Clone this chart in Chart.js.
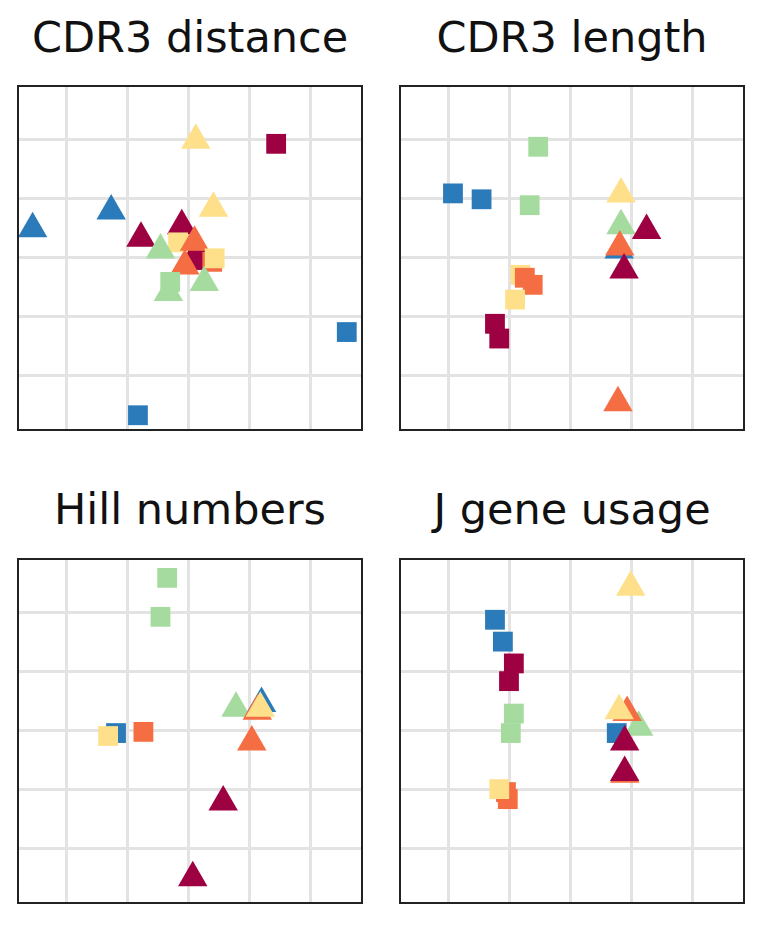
<!DOCTYPE html>
<html>
<head>
<meta charset="utf-8">
<script src="https://cdn.jsdelivr.net/npm/chart.js@4/dist/chart.umd.min.js"></script>
<style>
  body { margin: 0; background: #fff; width: 766px; height: 934px; position: relative; font-family: "DejaVu Sans", sans-serif; }
  .title { position: absolute; width: 380px; text-align: center; font-size: 43px; color: #111; white-space: nowrap; }
  canvas { position: absolute; }
</style>
</head>
<body>
<div class="title" style="left:0px;top:12px">CDR3 distance</div>
<div class="title" style="left:382px;top:12px">CDR3 length</div>
<div class="title" style="left:0px;top:484px">Hill numbers</div>
<div class="title" style="left:382px;top:484px">J gene usage</div>
<canvas id="c0" style="left:1px;top:69px" width="378" height="378"></canvas>
<canvas id="c1" style="left:383px;top:69px" width="378" height="378"></canvas>
<canvas id="c2" style="left:1px;top:542px" width="378" height="378"></canvas>
<canvas id="c3" style="left:383px;top:542px" width="378" height="378"></canvas>
<script>
const panelTitles = ['CDR3 distance', 'CDR3 length', 'Hill numbers', 'J gene usage'];
const groupColors = { blue: '#2b7bba', darkred: '#9e0142', orange: '#f46d43', yellow: '#fee08b', green: '#a6dba0' };
const gridTicks = [0.8, 1.8, 2.8, 3.8, 4.8];
const gridTicksY = [0.9, 1.9, 2.9, 3.9, 4.9];

// each point: [x, y, group, shape]
const cdr3Distance = [
  [0.24,2.42,'blue','t'],[1.53,2.12,'blue','t'],[5.4,4.17,'blue','s'],[1.97,5.58,'blue','s'],
  [4.24,0.98,'darkred','s'],[2.02,2.58,'darkred','t'],[2.69,2.37,'darkred','t'],[2.94,2.95,'darkred','s'],
  [2.92,0.92,'yellow','t'],[3.21,2.07,'yellow','t'],[2.63,2.65,'yellow','s'],
  [2.9,2.65,'orange','t'],[3.19,2.98,'orange','s'],[2.74,3.05,'orange','t'],[3.23,2.92,'yellow','s'],
  [2.34,2.78,'green','t'],[2.5,3.32,'green','s'],[2.47,3.5,'green','t'],[3.06,3.33,'green','t']
];
const cdr3Length = [
  [0.87,1.82,'blue','s'],[1.34,1.92,'blue','s'],[2.27,1.03,'green','s'],[2.13,2.02,'green','s'],
  [3.63,1.83,'yellow','t'],[3.63,2.37,'green','t'],[3.6,2.78,'blue','t'],[3.61,2.73,'orange','t'],
  [4.05,2.45,'darkred','t'],[3.68,3.12,'darkred','t'],
  [1.98,3.2,'yellow','s'],[2.18,3.37,'orange','s'],[2.05,3.25,'orange','s'],[1.89,3.62,'yellow','s'],
  [1.56,4.03,'darkred','s'],[1.63,4.28,'darkred','s'],[3.58,5.37,'orange','t']
];
const hillNumbers = [
  [2.45,0.32,'green','s'],[2.34,0.98,'green','s'],
  [4.0,2.45,'blue','t'],[3.58,2.53,'green','t'],[3.93,2.58,'orange','t'],[3.98,2.53,'yellow','t'],
  [3.84,3.1,'orange','t'],
  [1.61,2.95,'blue','s'],[2.06,2.93,'orange','s'],[1.48,3.0,'yellow','s'],
  [3.37,4.12,'darkred','t'],[2.87,5.4,'darkred','t']
];
const jGeneUsage = [
  [3.79,0.48,'yellow','t'],[1.56,1.03,'blue','s'],[1.69,1.4,'blue','s'],
  [1.87,1.77,'darkred','s'],[1.79,2.07,'darkred','s'],[1.87,2.62,'green','s'],[1.82,2.95,'green','s'],
  [3.56,2.95,'blue','s'],[3.92,2.85,'green','t'],[3.73,2.6,'orange','t'],[3.6,2.57,'yellow','t'],
  [3.69,3.1,'darkred','t'],[3.69,3.65,'orange','t'],[3.69,3.62,'darkred','t'],
  [1.77,4.07,'orange','s'],[1.74,3.95,'orange','s'],[1.63,3.9,'yellow','s']
];
const panels = [cdr3Distance, cdr3Length, hillNumbers, jGeneUsage];

const frame = {
  id: 'frame',
  afterDraw(chart) {
    const a = chart.chartArea, ctx = chart.ctx;
    ctx.save();
    ctx.strokeStyle = '#222';
    ctx.lineWidth = 2;
    ctx.strokeRect(a.left, a.top, a.right - a.left, a.bottom - a.top);
    ctx.restore();
  }
};

panels.forEach(function(pts, i) {
  new Chart(document.getElementById('c' + i), {
    type: 'scatter',
    data: {
      datasets: [{
        label: panelTitles[i],
        data: pts.map(p => ({ x: p[0], y: p[1] })),
        pointStyle: pts.map(p => p[3] === 's' ? 'rect' : 'triangle'),
        pointRadius: pts.map(p => p[3] === 's' ? 14 : 17),
        backgroundColor: pts.map(p => groupColors[p[2]]),
        borderWidth: 0,
        clip: false
      }]
    },
    options: {
      responsive: false,
      animation: false,
      layout: { padding: 14 },
      plugins: { legend: { display: false }, tooltip: { enabled: false } },
      scales: {
        x: {
          min: 0, max: 5.65,
          afterBuildTicks: s => { s.ticks = gridTicks.map(v => ({ value: v })); },
          ticks: { display: false },
          grid: { color: '#e3e3e3', lineWidth: 3, drawTicks: false },
          border: { display: false }
        },
        y: {
          reverse: true, min: 0, max: 5.83,
          afterBuildTicks: s => { s.ticks = gridTicksY.map(v => ({ value: v })); },
          ticks: { display: false },
          grid: { color: '#e3e3e3', lineWidth: 3, drawTicks: false },
          border: { display: false }
        }
      }
    },
    plugins: [frame]
  });
});
</script>
</body>
</html>
